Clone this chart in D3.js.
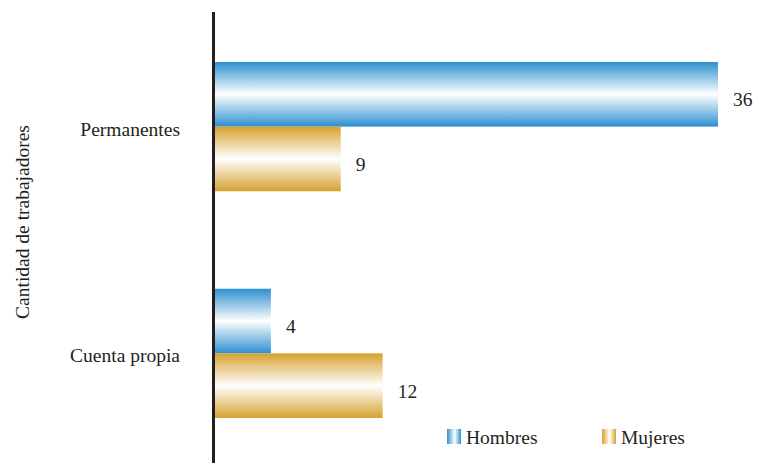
<!DOCTYPE html>
<html>
<head>
<meta charset="utf-8">
<script src="https://cdn.jsdelivr.net/npm/d3@7"></script>
<style>
  body { margin: 0; background: #fff; }
</style>
</head>
<body>
<div id="chart"></div>
<script>
var width = 757;
var height = 463;
var fontFam = "'Liberation Serif', 'Times New Roman', serif";

// data
var categories = ["Permanentes", "Cuenta propia"];
var series = ["Hombres", "Mujeres"];
var hombres = [36, 4];
var mujeres = [9, 12];

var colors = { Hombres: "#2d8fd0", Mujeres: "#d6a22f" };

var svg = d3.select("#chart").append("svg")
    .attr("width", width)
    .attr("height", height)
    .attr("font-family", fontFam)
    .attr("font-size", 19.5)
    .attr("fill", "#231f20");

var defs = svg.append("defs");
series.forEach(function (s) {
    // vertical gradient for the bars
    var g = defs.append("linearGradient")
        .attr("id", "grad" + s)
        .attr("x1", 0).attr("y1", 0).attr("x2", 0).attr("y2", 1);
    g.append("stop").attr("offset", "0%").attr("stop-color", colors[s]);
    g.append("stop").attr("offset", "50%").attr("stop-color", "#ffffff");
    g.append("stop").attr("offset", "100%").attr("stop-color", colors[s]);
    // horizontal one for the legend swatches
    var h = defs.append("linearGradient")
        .attr("id", "legGrad" + s)
        .attr("x1", 0).attr("y1", 0).attr("x2", 1).attr("y2", 0);
    h.append("stop").attr("offset", "0%").attr("stop-color", colors[s]);
    h.append("stop").attr("offset", "55%").attr("stop-color", "#ffffff");
    h.append("stop").attr("offset", "100%").attr("stop-color", colors[s]);
});

var x = d3.scaleLinear().domain([0, 36]).range([215, 718]);

var y0 = d3.scaleBand()
    .domain(categories)
    .range([62, 418])
    .paddingInner(0.43)
    .paddingOuter(0);

var y1 = d3.scaleBand()
    .domain(series)
    .range([0, y0.bandwidth()])
    .padding(0);

var rows = categories.map(function (c, i) {
    return { cat: c, values: [
        { key: "Hombres", value: hombres[i] },
        { key: "Mujeres", value: mujeres[i] }
    ] };
});

var groups = svg.selectAll("g.group")
    .data(rows)
    .enter().append("g")
    .attr("class", "group")
    .attr("transform", function (d) { return "translate(0," + y0(d.cat) + ")"; });

groups.selectAll("rect")
    .data(function (d) { return d.values; })
    .enter().append("rect")
    .attr("x", x(0))
    .attr("y", function (d) { return y1(d.key); })
    .attr("width", function (d) { return x(d.value) - x(0); })
    .attr("height", y1.bandwidth())
    .attr("fill", function (d) { return "url(#grad" + d.key + ")"; });

groups.selectAll("text.val")
    .data(function (d) { return d.values; })
    .enter().append("text")
    .attr("class", "val")
    .attr("x", function (d) { return x(d.value) + 15; })
    .attr("y", function (d) { return y1(d.key) + y1.bandwidth() / 2 + 12; })
    .text(function (d) { return d.value; });

// category labels
svg.selectAll("text.cat")
    .data(categories)
    .enter().append("text")
    .attr("class", "cat")
    .attr("x", 180)
    .attr("y", function (d) { return y0(d) + y0.bandwidth() / 2 + 9; })
    .attr("text-anchor", "end")
    .text(function (d) { return d; });

// axis line
svg.append("line")
    .attr("x1", 213.5).attr("x2", 213.5)
    .attr("y1", 12).attr("y2", height)
    .attr("stroke", "#231f20")
    .attr("stroke-width", 3);

// y title
svg.append("text")
    .attr("transform", "translate(29,222) rotate(-90)")
    .attr("text-anchor", "middle")
    .text("Cantidad de trabajadores");

// legend
var legendX = [447, 602];
var legend = svg.selectAll("g.legend")
    .data(series)
    .enter().append("g")
    .attr("class", "legend")
    .attr("transform", function (d, i) { return "translate(" + legendX[i] + ",429)"; });

legend.append("rect")
    .attr("width", 14)
    .attr("height", 15)
    .attr("fill", function (d) { return "url(#legGrad" + d + ")"; });

legend.append("text")
    .attr("x", 19)
    .attr("y", 15)
    .text(function (d) { return d; });
</script>
</body>
</html>
